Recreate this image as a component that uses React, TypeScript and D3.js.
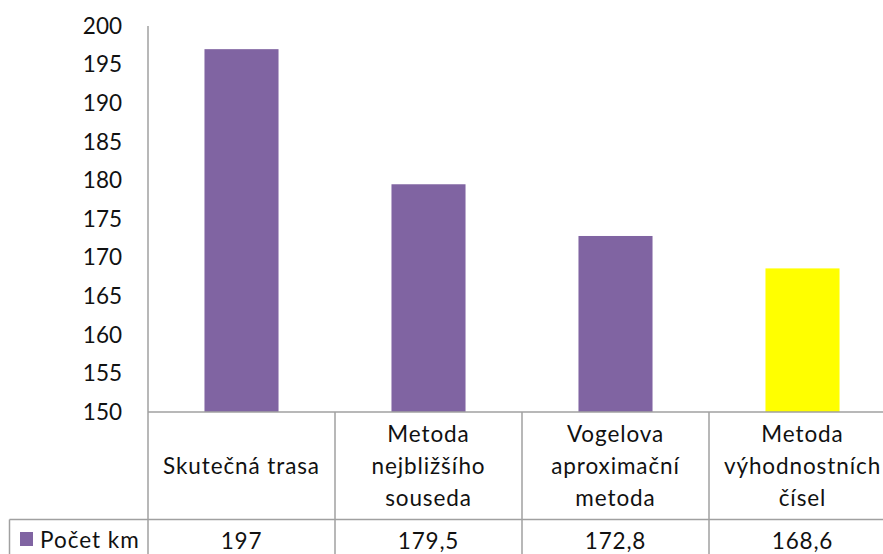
import React from "react";
import * as d3 from "d3";

const categories: string[][] = [
  ["Skutečná trasa"],
  ["Metoda", "nejbližšího", "souseda"],
  ["Vogelova", "aproximační", "metoda"],
  ["Metoda", "výhodnostních", "čísel"],
];
const values: number[] = [197, 179.5, 172.8, 168.6];
const valueLabels: string[] = ["197", "179,5", "172,8", "168,6"];
const barColors: string[] = ["#8064A2", "#8064A2", "#8064A2", "#FFFF00"];
const seriesName = "Počet km";
const yTicks: number[] = [150, 155, 160, 165, 170, 175, 180, 185, 190, 195, 200];

const W = 883;
const H = 554;
const FONT = "Lato, 'Liberation Sans', sans-serif";
const FS = 22.5;
const GRID = "#A0A0A0";

export default function App() {
  const left = 148;
  const right = 896;
  const top = 26;
  const base = 412;
  const rowY = 519.5;
  const keys = categories.map((_, i) => String(i));
  const x = d3.scaleBand<string>().domain(keys).range([left, right]).padding(0);
  const y = d3.scaleLinear().domain([150, 200]).range([base, top]);
  const bw = x.bandwidth() * 0.396;
  const lineH = 32;
  const midBaseline = 474;

  return (
    <svg
      width={W}
      height={H}
      style={{ position: "absolute", left: 0, top: 0, background: "#fff" }}
      fontFamily={FONT}
      fontSize={FS}
    >
      <rect x={0} y={0} width={W} height={H} fill="#fff" />
      {/* y tick labels */}
      {yTicks.map((t) => (
        <text key={t} x={122} y={y(t) + 7.8} textAnchor="end" fill="#111">
          {t}
        </text>
      ))}
      {/* bars */}
      {values.map((v, i) => {
        const cx = (x(keys[i]) as number) + x.bandwidth() / 2;
        return (
          <rect
            key={i}
            x={cx - bw / 2}
            y={y(v)}
            width={bw}
            height={y(150) - y(v)}
            fill={barColors[i]}
          />
        );
      })}
      {/* axis and table lines */}
      <g stroke={GRID} strokeWidth={1.5} fill="none">
        <line x1={left} x2={left} y1={top} y2={H} />
        <line x1={left} x2={right} y1={base} y2={base} />
        <line x1={9.5} x2={right} y1={rowY} y2={rowY} />
        <line x1={9.5} x2={9.5} y1={rowY} y2={H} />
        {keys.slice(1).map((k) => (
          <line key={k} x1={x(k) as number} x2={x(k) as number} y1={base} y2={H} />
        ))}
      </g>
      {/* category labels */}
      {categories.map((lines, i) => {
        const cx = (x(keys[i]) as number) + x.bandwidth() / 2;
        const n = lines.length;
        return (
          <g key={i}>
            {lines.map((ln, j) => (
              <text
                key={j}
                x={cx}
                y={midBaseline + (j - (n - 1) / 2) * lineH}
                textAnchor="middle"
                fill="#111"
                letterSpacing={0.9}
              >
                {ln}
              </text>
            ))}
          </g>
        );
      })}
      {/* legend row */}
      <rect x={20} y={532} width={13} height={14} fill={barColors[0]} />
      <text x={40} y={548} fill="#111" letterSpacing={1}>
        {seriesName}
      </text>
      {valueLabels.map((lb, i) => {
        const cx = (x(keys[i]) as number) + x.bandwidth() / 2;
        return (
          <text key={i} x={cx} y={548.5} textAnchor="middle" fill="#111" letterSpacing={0.8}>
            {lb}
          </text>
        );
      })}
    </svg>
  );
}
